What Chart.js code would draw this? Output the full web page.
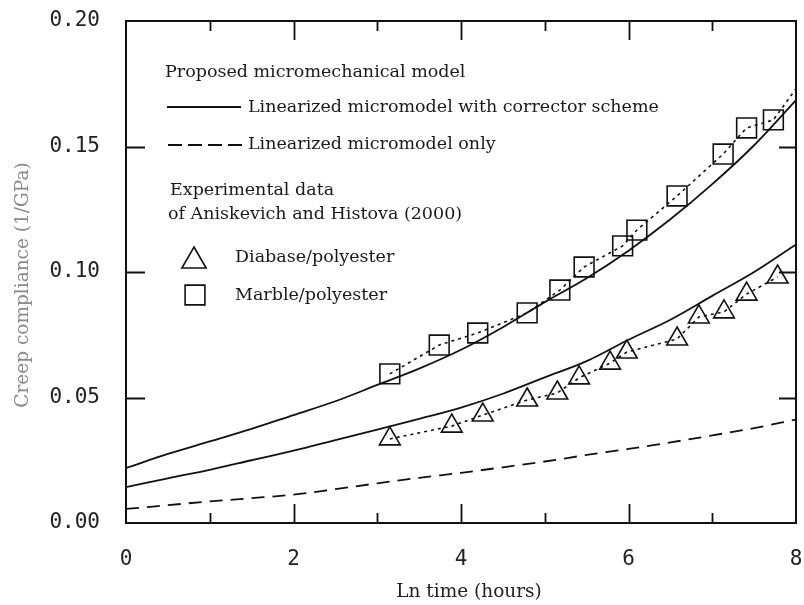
<!DOCTYPE html>
<html>
<head>
<meta charset="utf-8">
<script src="https://cdn.jsdelivr.net/npm/chart.js@4.4.0/dist/chart.umd.min.js"></script>
<style>
  html, body { margin: 0; padding: 0; background: #fff; overflow: hidden; }
  #wrap { width: 804px; height: 605px; position: relative; }
  #creepChart { display: block; }
</style>
</head>
<body>
<div id="wrap"><canvas id="creepChart"></canvas></div>
<script>
/* Creep compliance vs ln time */

// model curves, sampled on ln(t)
const modelX = [0, 0.5, 1, 1.5, 2, 2.5, 3, 3.5, 4, 4.5, 5, 5.5, 6, 6.5, 7, 7.5, 8];
const correctorMarble = [0.0219, 0.0275, 0.0325, 0.0375, 0.0430, 0.0485, 0.0550, 0.0615, 0.0690, 0.0780, 0.0880, 0.0975, 0.1085, 0.1210, 0.1350, 0.1505, 0.1685];
const correctorDiabase = [0.0143, 0.0178, 0.0212, 0.0250, 0.0288, 0.0330, 0.0372, 0.0415, 0.0460, 0.0515, 0.0580, 0.0645, 0.0730, 0.0810, 0.0905, 0.1000, 0.1110];
const linearOnly = [0.0056, 0.0071, 0.0086, 0.0099, 0.0113, 0.0135, 0.0158, 0.0180, 0.0200, 0.0222, 0.0245, 0.0271, 0.0295, 0.0321, 0.0349, 0.0378, 0.0412];

// experimental points (Aniskevich and Histova 2000)
const diabaseX = [3.15, 3.89, 4.26, 4.79, 5.15, 5.41, 5.78, 5.98, 6.58, 6.84, 7.14, 7.41, 7.78];
const diabaseY = [0.0335, 0.0386, 0.0430, 0.0490, 0.0518, 0.0578, 0.0637, 0.0681, 0.0733, 0.0821, 0.0841, 0.0912, 0.0980];
const marbleX = [3.15, 3.74, 4.20, 4.79, 5.18, 5.47, 5.93, 6.10, 6.58, 7.13, 7.41, 7.73];
const marbleY = [0.0594, 0.0709, 0.0757, 0.0837, 0.0928, 0.1020, 0.1104, 0.1167, 0.1303, 0.1470, 0.1574, 0.1606];
// the dotted marble trend runs on past the last square
const marbleTrendEnd = [8, 0.173];

const xTitle = 'Ln time (hours)';
const yTitle = 'Creep compliance (1/GPa)';
const legendHead = 'Proposed micromechanical model';
const legendSolid = 'Linearized micromodel with corrector scheme';
const legendDashed = 'Linearized micromodel only';
const legendExp = ['Experimental data', 'of Aniskevich and Histova (2000)'];
const legendDiabase = 'Diabase/polyester';
const legendMarble = 'Marble/polyester';

const INK = '#111';
const SERIF = 'DejaVu Serif, Liberation Serif, serif';
const MONO = 'DejaVu Sans Mono, monospace';

function pairs(xs, ys) { return xs.map((x, i) => ({ x, y: ys[i] })); }

const solidLine = { borderColor: INK, borderWidth: 1.8, pointRadius: 0, fill: false, cubicInterpolationMode: 'monotone' };
const dottedLine = { borderColor: INK, borderWidth: 1.6, borderDash: [3, 4], pointRadius: 0, fill: false, tension: 0 };
const markerSet = { showLine: false, borderColor: INK, backgroundColor: 'rgba(0,0,0,0)', pointBorderWidth: 1.6, pointBorderColor: INK, pointBackgroundColor: 'rgba(0,0,0,0)' };

const paperPlugin = {
  id: 'paper',
  afterDraw(chart) {
    const { ctx, chartArea: a, scales: { x, y } } = chart;
    ctx.save();
    ctx.strokeStyle = INK;
    ctx.lineWidth = 2;
    ctx.strokeRect(a.left, a.top, a.right - a.left, a.bottom - a.top);

    // inward ticks
    ctx.lineWidth = 1.8;
    ctx.beginPath();
    x.ticks.forEach(t => {
      if (t.value <= x.min || t.value >= x.max) return;
      const px = Math.round(x.getPixelForValue(t.value)) + 0.5;
      const len = Math.round(t.value) % 2 === 0 ? 19 : 10;
      ctx.moveTo(px, a.bottom); ctx.lineTo(px, a.bottom - len);
      ctx.moveTo(px, a.top); ctx.lineTo(px, a.top + len);
    });
    y.ticks.forEach(t => {
      if (t.value <= y.min + 1e-9 || t.value >= y.max - 1e-9) return;
      const py = Math.round(y.getPixelForValue(t.value)) + 0.5;
      ctx.moveTo(a.left, py); ctx.lineTo(a.left + 19, py);
      ctx.moveTo(a.right, py); ctx.lineTo(a.right - 17, py);
    });
    ctx.stroke();

    // axis titles
    ctx.font = '18.5px ' + SERIF;
    ctx.textAlign = 'center';
    ctx.textBaseline = 'middle';
    ctx.fillStyle = '#222';
    ctx.fillText(xTitle, 469, 592);
    ctx.save();
    ctx.translate(23, 285);
    ctx.rotate(-Math.PI / 2);
    ctx.fillStyle = '#8a8a8a';
    ctx.fillText(yTitle, 0, 0);
    ctx.restore();

    // legend inside the plot
    ctx.font = '17.5px ' + SERIF;
    ctx.textAlign = 'left';
    ctx.fillStyle = '#1a1a1a';
    ctx.fillText(legendHead, 165, 72);
    ctx.fillText(legendSolid, 248, 107);
    ctx.fillText(legendDashed, 248, 144);
    ctx.fillText(legendExp[0], 170, 190);
    ctx.fillText(legendExp[1], 168, 214);
    ctx.fillText(legendDiabase, 235, 257);
    ctx.fillText(legendMarble, 235, 295);

    ctx.lineWidth = 1.8;
    ctx.beginPath();
    ctx.moveTo(167, 107); ctx.lineTo(241, 107);
    ctx.stroke();
    ctx.setLineDash([14, 6]);
    ctx.beginPath();
    ctx.moveTo(168, 145); ctx.lineTo(246, 145);
    ctx.stroke();
    ctx.setLineDash([]);

    ctx.lineWidth = 1.6;
    ctx.fillStyle = 'rgba(0,0,0,0)';
    Chart.helpers.drawPoint(ctx, { pointStyle: 'triangle', radius: 14, rotation: 0, borderWidth: 1.6 }, 194, 261);
    Chart.helpers.drawPoint(ctx, { pointStyle: 'rect', radius: 14, rotation: 0, borderWidth: 1.6 }, 195, 295);
    ctx.restore();
  }
};

new Chart(document.getElementById('creepChart'), {
  type: 'line',
  data: {
    datasets: [
      { ...solidLine, label: 'Corrector (marble)', data: pairs(modelX, correctorMarble) },
      { ...solidLine, label: 'Corrector (diabase)', data: pairs(modelX, correctorDiabase) },
      { ...solidLine, label: 'Linearized only', data: pairs(modelX, linearOnly), borderDash: [13, 8] },
      { ...dottedLine, label: 'Diabase trend', data: pairs(diabaseX, diabaseY) },
      { ...dottedLine, label: 'Marble trend', data: pairs(marbleX, marbleY).concat([{ x: marbleTrendEnd[0], y: marbleTrendEnd[1] }]) },
      { ...markerSet, label: legendDiabase, data: pairs(diabaseX, diabaseY), pointStyle: 'triangle', pointRadius: 12 },
      { ...markerSet, label: legendMarble, data: pairs(marbleX, marbleY), pointStyle: 'rect', pointRadius: 14 },
    ]
  },
  options: {
    responsive: true, maintainAspectRatio: false,
    animation: false,
    // big markers would otherwise push the plot box inwards
    layout: { autoPadding: false, padding: { left: 0, right: 8, top: 21, bottom: 0 } },
    plugins: { legend: { display: false }, tooltip: { enabled: false } },
    scales: {
      x: {
        type: 'linear', min: 0, max: 8,
        grid: { display: false, drawTicks: false }, border: { display: false },
        ticks: {
          stepSize: 1, autoSkip: false, padding: 24, color: '#222',
          font: { family: MONO, size: 21 },
          callback: v => (Math.round(v) % 2 === 0 ? String(v) : '')
        },
        afterFit: s => { s.height = 82; s.paddingLeft = 0; s.paddingRight = 0; }
      },
      y: {
        min: 0, max: 0.2,
        grid: { display: false, drawTicks: false }, border: { display: false },
        ticks: {
          stepSize: 0.05, padding: 26, color: '#222',
          font: { family: MONO, size: 21 },
          callback: v => v.toFixed(2)
        },
        afterFit: s => { s.width = 126; s.paddingTop = 0; s.paddingBottom = 0; }
      }
    }
  },
  plugins: [paperPlugin]
});
</script>
</body>
</html>
